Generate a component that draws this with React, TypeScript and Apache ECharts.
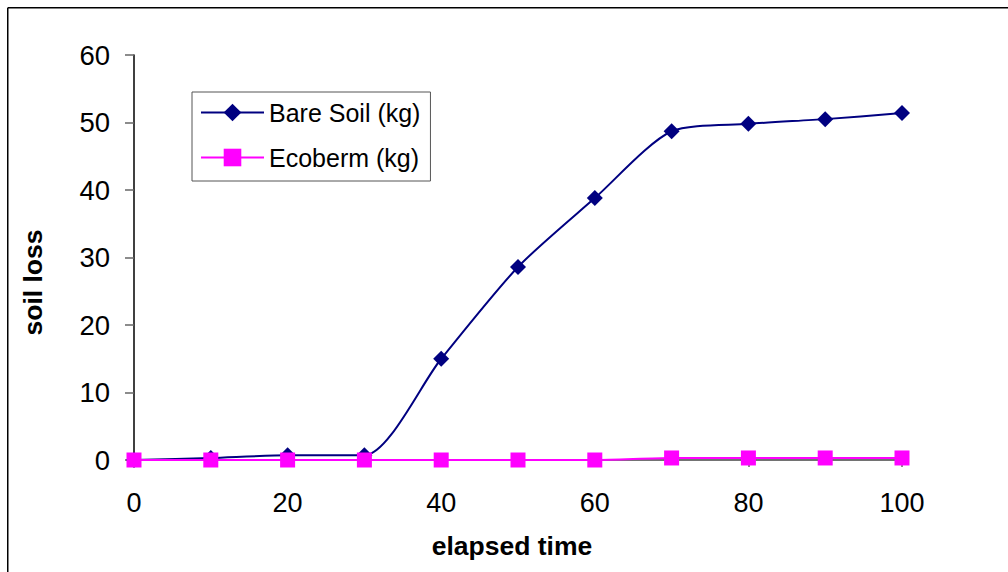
import React, { useEffect, useRef } from "react";
import * as echarts from "echarts";

const elapsedTime = [0, 10, 20, 30, 40, 50, 60, 70, 80, 90, 100];
const bareSoil = [0, 0.3, 0.7, 0.7, 15.0, 28.6, 38.8, 48.7, 49.8, 50.5, 51.4];
const ecoberm = [0, 0, 0, 0, 0, 0, 0, 0.3, 0.3, 0.3, 0.3];
const seriesNames = ["Bare Soil (kg)", "Ecoberm (kg)"];
const xTitle = "elapsed time";
const yTitle = "soil loss";

const FONT = "Arial, 'Liberation Sans', sans-serif";

export default function App() {
  const ref = useRef<HTMLDivElement>(null);
  useEffect(() => {
    if (!ref.current) return;
    const chart = echarts.init(ref.current, undefined, { renderer: "svg" });
    const pairs = (ys: number[]) => elapsedTime.map((x, i) => [x, ys[i]]);
    chart.setOption({
      animation: false,
      backgroundColor: "#ffffff",
      textStyle: { fontFamily: FONT },
      graphic: [
        { type: "line", shape: { x1: 0.75, y1: 0.75, x2: 1001, y2: 0.75 }, style: { stroke: "#000", lineWidth: 1.5 } },
        { type: "line", shape: { x1: 0.75, y1: 0.75, x2: 0.75, y2: 565 }, style: { stroke: "#000", lineWidth: 1.5 } },
      ],
      grid: { left: 127, right: 106, top: 48, bottom: 112, containLabel: false },
      legend: {
        orient: "vertical",
        left: 185,
        top: 85,
        padding: [8, 10, 11, 8],
        itemGap: 20,
        itemWidth: 63,
        itemHeight: 22,
        backgroundColor: "#ffffff",
        borderColor: "#555555",
        borderWidth: 1,
        borderRadius: 0,
        textStyle: { fontSize: 25, color: "#000", fontFamily: FONT, lineHeight: 24 },
        data: seriesNames,
      },
      xAxis: {
        type: "value",
        min: 0,
        max: 100,
        interval: 20,
        name: xTitle,
        nameLocation: "middle",
        nameGap: 72,
        nameTextStyle: { fontSize: 26.5, fontWeight: "bold", color: "#000", fontFamily: FONT, padding: [0, 12, 0, 0] },
        axisLine: { show: true, onZero: false, lineStyle: { color: "#444", width: 1.5 } },
        axisTick: { show: true, length: 7, lineStyle: { color: "#666", width: 1.5 } },
        axisLabel: { fontSize: 27, color: "#000", margin: 29, fontFamily: FONT },
        splitLine: { show: false },
      },
      yAxis: {
        type: "value",
        min: 0,
        max: 60,
        interval: 10,
        name: yTitle,
        nameLocation: "middle",
        nameGap: 88,
        nameRotate: 90,
        nameTextStyle: { fontSize: 26.5, fontWeight: "bold", color: "#000", fontFamily: FONT, padding: [0, 50, 0, 0] },
        axisLine: { show: true, lineStyle: { color: "#000", width: 1.5 } },
        axisTick: { show: true, length: 9, lineStyle: { color: "#666", width: 1.5 } },
        axisLabel: { fontSize: 27.5, color: "#000", margin: 24, fontFamily: FONT },
        splitLine: { show: false },
      },
      series: [
        {
          name: seriesNames[0],
          type: "line",
          data: pairs(bareSoil),
          smooth: 0.25,
          symbol: "diamond",
          symbolSize: 16,
          lineStyle: { color: "#000080", width: 2 },
          itemStyle: { color: "#000080" },
          z: 2,
        },
        {
          name: seriesNames[1],
          type: "line",
          data: pairs(ecoberm),
          smooth: 0.25,
          symbol: "rect",
          symbolSize: 15,
          lineStyle: { color: "#ff00ff", width: 2 },
          itemStyle: { color: "#ff00ff" },
          z: 3,
        },
      ],
    });
    return () => chart.dispose();
  }, []);
  return (
    <div
      ref={ref}
      style={{ position: "absolute", left: 7, top: 7, width: 1001, height: 565 }}
    />
  );
}
